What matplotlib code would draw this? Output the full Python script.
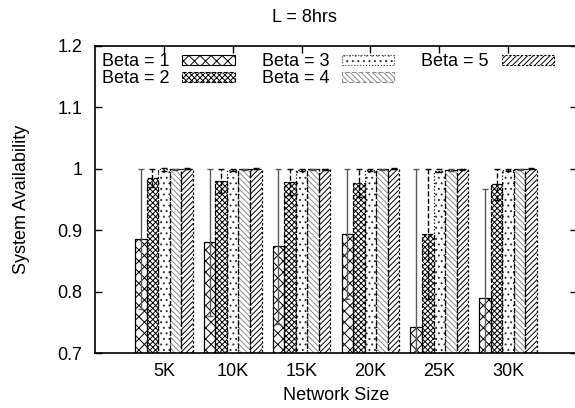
import matplotlib
matplotlib.use("Agg")
import matplotlib.pyplot as plt
from matplotlib.patches import Rectangle
import numpy as np

plt.rcParams['font.family'] = ['Liberation Sans', 'DejaVu Sans']
plt.rcParams['hatch.linewidth'] = 0.7

categories = ["5K", "10K", "15K", "20K", "25K", "30K"]
series_names = ["Beta = 1", "Beta = 2", "Beta = 3", "Beta = 4", "Beta = 5"]
beta1 = [0.886, 0.880, 0.874, 0.894, 0.743, 0.790]
beta1_err = [0.114, 0.120, 0.126, 0.106, 0.257, 0.177]
beta2 = [0.985, 0.980, 0.979, 0.977, 0.894, 0.975]
beta2_err = [0.015, 0.020, 0.021, 0.023, 0.106, 0.025]
beta3 = [0.999, 0.998, 0.998, 0.998, 0.997, 0.998]
beta3_err = [0.002, 0.002, 0.002, 0.002, 0.003, 0.002]
beta4 = [0.999, 0.999, 0.999, 0.999, 0.998, 0.999]
beta4_err = [0.001, 0.001, 0.001, 0.001, 0.002, 0.001]
beta5 = [1.000, 1.000, 0.999, 1.000, 0.999, 1.000]
beta5_err = [0.001, 0.001, 0.001, 0.001, 0.001, 0.001]

values = [beta1, beta2, beta3, beta4, beta5]
errors = [beta1_err, beta2_err, beta3_err, beta4_err, beta5_err]
hatches = ['xxx', 'xxxxxx', '...', '\\\\\\\\\\\\', '//////']
hatch_colors = ['black', 'black', '0.2', '0.55', 'black']
edge_styles = ['-', '--', ':', (0, (4, 2)), (0, (2, 1.5))]
err_colors = ['0.35', 'black', 'black', '0.3', 'black']

FS = 13
fig = plt.figure(figsize=(5.75, 4.08), dpi=100)
ax = fig.add_axes([95/575, 1-353/408, (577-95)/575, (353-46)/408])

x = np.arange(1, len(categories)+1)
w = 0.168
handles = []
for i in range(5):
    pos = x + (i-2)*w
    ax.bar(pos, np.array(values[i])-0.7, w, bottom=0.7, color='white',
           edgecolor=hatch_colors[i], hatch=hatches[i], linewidth=0, zorder=2)
    ax.bar(pos, np.array(values[i])-0.7, w, bottom=0.7, fill=False,
           edgecolor='black', linewidth=0.9, linestyle=edge_styles[i], zorder=3)
    eb = ax.errorbar(pos, values[i], yerr=errors[i], fmt='none', ecolor=err_colors[i],
                     elinewidth=1.0, capsize=2.5, capthick=1.0, zorder=4)
    for lc in eb[2]:
        lc.set_linestyle(edge_styles[i])
    h = Rectangle((0, 0), 1, 1, facecolor='white', edgecolor=hatch_colors[i],
                  hatch=hatches[i], linewidth=0.8, linestyle=edge_styles[i])
    handles.append(h)

ax.set_xlim(0, 7)
ax.set_ylim(0.7, 1.2)
ax.set_xticks(x)
ax.set_xticklabels(categories)
ax.set_yticks([0.7, 0.8, 0.9, 1.0, 1.1, 1.2])
ax.set_yticklabels(["0.7", "0.8", "0.9", "1", "1.1", "1.2"])
ax.tick_params(direction='in', top=True, right=True, length=5, width=1.0, labelsize=FS,
               pad=9)
ax.tick_params(axis='x', pad=7)
for s in ax.spines.values():
    s.set_linewidth(1.2)

ax.set_xlabel("Network Size", fontsize=FS, labelpad=5)
ax.set_ylabel("System Availability", fontsize=FS, labelpad=20)
fig.text(304/575, 1-18/408, "L = 8hrs", ha='center', va='center', fontsize=FS)

leg = ax.legend(handles, series_names, ncol=3, loc='upper left', frameon=False,
                markerfirst=False, handlelength=2.9, handleheight=0.5,
                fontsize=FS, borderaxespad=0.1, borderpad=0.3, columnspacing=1.5,
                handletextpad=0.7, labelspacing=0.0, bbox_to_anchor=(0.0, 1.0))

fig.savefig("out.png", dpi=100)
